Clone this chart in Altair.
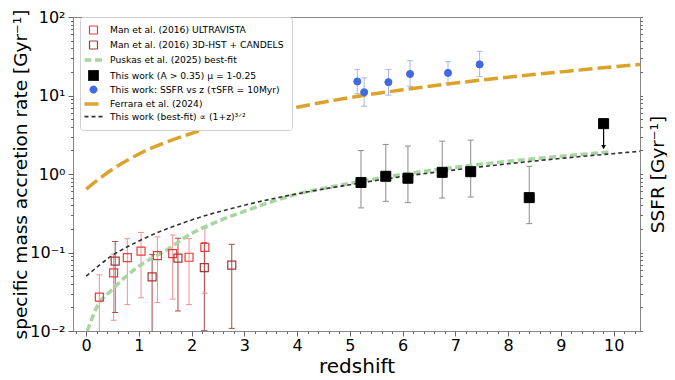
import altair as alt
import pandas as pd

FONT = "DejaVu Sans"

# ---------------- data ----------------
# Man et al. (2016) ULTRAVISTA
uv_z = [0.25, 0.52, 0.78, 1.04, 1.35, 1.64, 1.95, 2.25]
uv_v = [0.027, 0.055, 0.086, 0.104, 0.091, 0.097, 0.087, 0.116]
uv_lo = [0.004, 0.0137, 0.0217, 0.0265, 0.023, 0.0255, 0.0217, 0.0303]
uv_hi = [0.052, 0.095, 0.150, 0.180, 0.158, 0.167, 0.150, 0.205]

# Man et al. (2016) 3D-HST + CANDELS
hst_z = [0.55, 1.25, 1.74, 2.24, 2.76]
hst_v = [0.0775, 0.049, 0.085, 0.064, 0.069]
hst_lo = [0.0172, 0.004, 0.018, 0.0101, 0.0108]
hst_hi = [0.138, 0.094, 0.152, 0.133, 0.127]

# This work (A > 0.35)
tw_z = [5.21, 5.68, 6.10, 6.75, 7.29, 8.40]
tw_v = [0.78, 0.935, 0.883, 1.05, 1.07, 0.50]
tw_lo = [0.37, 0.449, 0.432, 0.494, 0.509, 0.233]
tw_hi = [1.99, 2.38, 2.27, 2.62, 2.70, 1.25]
# upper limit
ul_z = [9.81]
ul_v = [4.38]
ul_to = [2.2]

# This work: SSFR vs z
ss_z = [5.14, 5.27, 5.73, 6.14, 6.86, 7.46]
ss_v = [15.1, 11.0, 14.8, 18.8, 19.4, 24.9]
ss_lo = [10.5, 7.3, 10.1, 13.1, 14.4, 17.4]
ss_hi = [21.5, 16.8, 21.4, 27.7, 26.9, 36.6]

# Curves
pu_z = [0.02, 0.2, 0.5, 1.0, 1.5, 2.0, 2.5, 3.0, 3.5, 4.0, 4.5, 5.0, 6.0, 7.0, 8.0, 9.0, 9.97]
pu_v = [0.0100, 0.020, 0.034, 0.067, 0.105, 0.175, 0.25, 0.335, 0.44, 0.555, 0.655, 0.76, 0.99, 1.22, 1.45, 1.68, 1.92]
fe_z = [0, 0.5, 1, 2, 3, 4, 5, 6, 7, 8, 9, 10, 10.5]
fe_v = [0.64, 1.15, 1.8, 3.3, 5.1, 7.1, 9.4, 11.8, 14.4, 17.1, 20.0, 23.2, 24.8]
bf_z = [0, 0.5, 1, 2, 3, 4, 5, 6, 7, 8, 9, 10, 10.5]
bf_v = [0.05, 0.092, 0.14, 0.26, 0.40, 0.56, 0.73, 0.93, 1.13, 1.35, 1.58, 1.82, 1.95]

# Series / legend
S = [
    "Man et al. (2016) ULTRAVISTA",
    "Man et al. (2016) 3D-HST + CANDELS",
    "Puskas et al. (2025) best-fit",
    "This work (A > 0.35) μ = 1-0.25",
    "This work: SSFR vs z (τSFR = 10Myr)",
    "Ferrara et al. (2024)",
    "This work (best-fit) ∝ (1+z)³ᐟ²",
]
LINE_SYM = "M-3,0H3"
STROKE_R = ["#ee3b3b", "#a33a3a", "#a8d6a2", "#000000", "#4169e1", "#dca32c", "#333333"]
FILL_R = ["transparent", "transparent", "transparent", "#000000", "#4169e1", "transparent", "transparent"]
SHAPE_R = ["square", "square", LINE_SYM, "square", "circle", LINE_SYM, LINE_SYM]
DASH_R = [[1, 0], [1, 0], [7, 3.5], [1, 0], [1, 0], [14, 5], [4, 3]]
SIZE_R = [64, 64, 36, 100, 50, 36, 36]
SW_R = [1.2, 1.2, 3.5, 1, 1, 3.5, 1.6]
EB_COL = {"uv": "#f59090", "hst": "#a84a4a", "tw": "#8c8c8c", "ss": "#a3b5ee"}

# Axis ticks
y_major = [0.01, 0.1, 1, 10, 100]
y_all = [m * d for d in [0.01, 0.1, 1, 10] for m in range(1, 10)] + [100]
x_major = list(range(0, 11))
x_all = [round(i * 0.2, 1) for i in range(-1, 53)]

# ---------------- tables ----------------
pts = pd.concat([
    pd.DataFrame({"z": uv_z, "v": uv_v, "series": S[0]}),
    pd.DataFrame({"z": hst_z, "v": hst_v, "series": S[1]}),
    pd.DataFrame({"z": tw_z + ul_z, "v": tw_v + ul_v, "series": S[3]}),
    pd.DataFrame({"z": ss_z, "v": ss_v, "series": S[4]}),
], ignore_index=True)

eb = pd.concat([
    pd.DataFrame({"z": uv_z, "lo": uv_lo, "hi": uv_hi, "col": EB_COL["uv"]}),
    pd.DataFrame({"z": hst_z, "lo": hst_lo, "hi": hst_hi, "col": EB_COL["hst"]}),
    pd.DataFrame({"z": tw_z, "lo": tw_lo, "hi": tw_hi, "col": EB_COL["tw"]}),
    pd.DataFrame({"z": ss_z, "lo": ss_lo, "hi": ss_hi, "col": EB_COL["ss"]}),
], ignore_index=True)
caps = pd.concat([
    eb[["z", "lo", "col"]].rename(columns={"lo": "v"}),
    eb[["z", "hi", "col"]].rename(columns={"hi": "v"}),
], ignore_index=True)

curves = pd.concat([
    pd.DataFrame({"z": pu_z, "v": pu_v, "series": S[2]}),
    pd.DataFrame({"z": fe_z, "v": fe_v, "series": S[5]}),
    pd.DataFrame({"z": bf_z, "v": bf_v, "series": S[6]}),
], ignore_index=True)

ul = pd.DataFrame({"z": ul_z, "v": ul_v, "to": ul_to})

# ---------------- scales / axes ----------------
W, H = 567, 314
XS = alt.Scale(domain=[-0.25, 10.5], nice=False, zero=False)
YS = alt.Scale(type="log", domain=[0.01, 100], nice=False)

major_test_y = "indexof([0.01, 0.1, 1, 10, 100], datum.value) >= 0"
tick_y = {"condition": {"test": major_test_y, "value": 5}, "value": 2.5}
tick_x = {"condition": {"test": "datum.value == round(datum.value)", "value": 5}, "value": 2.5}

XAX = alt.Axis(values=x_all, labelExpr="datum.value == round(datum.value) ? format(datum.value, 'd') : ''",
               tickSize=tick_x, title="redshift", titleFontSize=20, labelFontSize=16,
               labelPadding=1, titlePadding=3, grid=False)
YAX_L = alt.Axis(values=y_all,
                 labelExpr="datum.value == 100 ? '10²' : datum.value == 10 ? '10¹' : datum.value == 1 ? '10⁰' : datum.value == 0.1 ? '10⁻¹' : datum.value == 0.01 ? '10⁻²' : ''",
                 tickSize=tick_y, title="specific mass accretion rate [Gyr⁻¹]", titleFontSize=18.5,
                 labelFontSize=16, labelPadding=3, titleAngle=270, titleBaseline="middle",
                 titleX=-53, titleY=H / 2, grid=False)
YAX_R = alt.Axis(orient="right", values=y_all, labels=False, tickSize=2.5,
                 title="SSFR [Gyr⁻¹]", titleFontSize=18.5, titleAngle=270, titleBaseline="middle",
                 titleX=17, titleY=H / 2, grid=False)

X = alt.X("z:Q", scale=XS, axis=XAX)


def leg():
    return alt.Legend(title=None, orient="none", legendX=7, legendY=0, padding=8, rowPadding=1,
                      labelFont=FONT, labelFontSize=9.2, labelColor="black", labelLimit=400,
                      strokeColor="#d0d0d0", fillColor="white", cornerRadius=3, labelOffset=11)


def sc(rng, t=None):
    if t:
        return alt.Scale(type=t, domain=S, range=rng)
    return alt.Scale(domain=S, range=rng)


# ---------------- layers ----------------
bars = alt.Chart(eb).mark_rule(clip=True, strokeWidth=1).encode(
    x=X,
    y=alt.Y("lo:Q", scale=YS, axis=YAX_L),
    y2="hi:Q",
    stroke=alt.Stroke("col:N", scale=None),
)
capm = alt.Chart(caps).mark_point(shape="stroke", size=36, strokeWidth=1, clip=True, opacity=1).encode(
    x=X,
    y=alt.Y("v:Q", scale=YS, axis=None),
    stroke=alt.Stroke("col:N", scale=None),
)
lines = alt.Chart(curves).mark_line(clip=True, interpolate="monotone").encode(
    x=X,
    y=alt.Y("v:Q", scale=YS, axis=None),
    stroke=alt.Stroke("series:N", scale=sc(STROKE_R), legend=leg()),
    strokeDash=alt.StrokeDash("series:N", scale=sc(DASH_R), legend=leg()),
    strokeWidth=alt.StrokeWidth("series:N", scale=sc(SW_R, "ordinal"), legend=leg()),
    detail="series:N",
)
points = alt.Chart(pts).mark_point(filled=True, clip=True, opacity=1).encode(
    x=X,
    y=alt.Y("v:Q", scale=YS, axis=None),
    stroke=alt.Stroke("series:N", scale=sc(STROKE_R), legend=leg()),
    fill=alt.Fill("series:N", scale=sc(FILL_R), legend=leg()),
    shape=alt.Shape("series:N", scale=sc(SHAPE_R), legend=leg()),
    size=alt.Size("series:N", scale=sc(SIZE_R, "ordinal"), legend=leg()),
    strokeWidth=alt.StrokeWidth("series:N", scale=sc(SW_R, "ordinal"), legend=leg()),
)
ul_rule = alt.Chart(ul).mark_rule(color="black", strokeWidth=1.2, clip=True).encode(
    x=X,
    y=alt.Y("v:Q", scale=YS, axis=YAX_R),
    y2="to:Q",
)
ul_head = alt.Chart(ul).mark_point(shape="triangle-down", size=22, filled=True, color="black",
                                   opacity=1, clip=True).encode(
    x=X,
    y=alt.Y("to:Q", scale=YS, axis=None),
)

chart = alt.layer(bars, capm, lines, points, ul_rule, ul_head).resolve_axis(
    y="independent"
).properties(
    width=W, height=H,
    autosize=alt.AutoSizeParams(type="none"),
    padding={"left": 65, "top": 9, "right": 27, "bottom": 49},
).configure(font=FONT).configure_view(
    stroke="#888888", strokeWidth=1
).configure_axis(
    domain=False, tickColor="#666666", labelColor="black", titleColor="black",
    titleFontWeight="normal", labelFont=FONT, titleFont=FONT
)

chart.save("out.html", embed_options={"renderer": "svg", "actions": False})
